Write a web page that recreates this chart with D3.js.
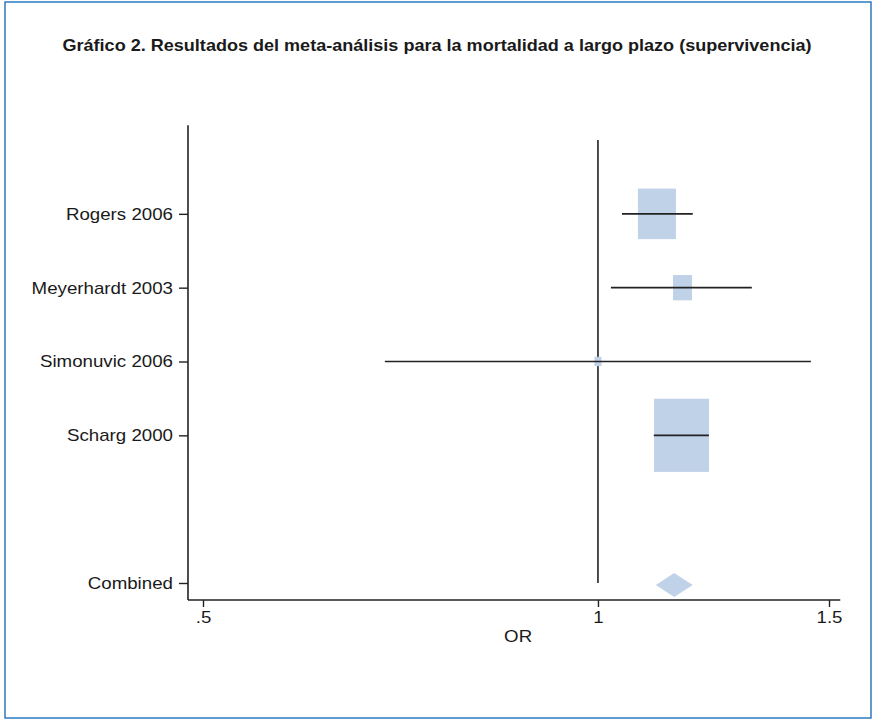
<!DOCTYPE html>
<html><head><meta charset="utf-8">
<script src="https://cdn.jsdelivr.net/npm/d3@7"></script>
<style>body{margin:0;background:#fff}</style>
</head><body>
<svg id="c" width="874" height="722"></svg>
<script>
// ---- data ----
const studies = ["Rogers 2006", "Meyerhardt 2003", "Simonuvic 2006", "Scharg 2000"];
const orEst  = [1.109, 1.160, 1.000, 1.158];
const ciLow  = [1.043, 1.023, 0.688, 1.103];
const ciHigh = [1.181, 1.310, 1.453, 1.215];
const weights = [29.6, 7.4, 1.0, 62.0];
const combinedLabel = "Combined";
const combinedEst = 1.143, combinedLow = 1.107, combinedHigh = 1.181;
const xTicks = [0.5, 1, 1.5];
const xTickLabels = [".5", "1", "1.5"];
const title = "Gráfico 2. Resultados del meta-análisis para la mortalidad a largo plazo (supervivencia)";
const xTitle = "OR";

// ---- layout ----
const svg = d3.select("#c");
const font = "'Liberation Sans', Arial, Helvetica, sans-serif";
const labelSize = 17, stretch = 1.1;

function widen(sel, f) {
  sel.each(function () {
    const w = this.getComputedTextLength();
    d3.select(this).attr("textLength", w * f).attr("lengthAdjust", "spacingAndGlyphs");
  });
}

svg.append("rect").attr("x", 5).attr("y", 2).attr("width", 866).attr("height", 716)
  .attr("fill", "#fff").attr("stroke", "#3a83c2").attr("stroke-width", 1.6);

const t = svg.append("text").attr("x", 437).attr("y", 51).attr("text-anchor", "middle")
  .attr("font-family", font).attr("font-weight", "bold").attr("font-size", 16.5)
  .attr("fill", "#1a1a1a").text(title);
t.attr("textLength", 749).attr("lengthAdjust", "spacingAndGlyphs");

const x = d3.scaleLog().domain([0.5, 1.5]).range([203, 829]);
const rows = studies.map((d, i) => i + 1);
const combinedRow = studies.length + 2;
const y = d3.scaleLinear().domain([0, combinedRow]).range([140, 583]);

const xMin = 0.487, xMax = 1.53;   // plot region extents
const yTop = -0.2, yBottom = combinedRow + 0.23;

const g = svg.append("g");

// axes lines
g.append("line").attr("x1", x(xMin)).attr("x2", x(xMin)).attr("y1", y(yTop)).attr("y2", y(yBottom))
  .attr("stroke", "#222").attr("stroke-width", 1.6);
g.append("line").attr("x1", x(xMin)).attr("x2", x(xMax)).attr("y1", y(yBottom)).attr("y2", y(yBottom))
  .attr("stroke", "#222").attr("stroke-width", 1.6);

// x axis ticks
const xa = g.append("g").attr("transform", `translate(0,${y(yBottom)})`)
  .call(d3.axisBottom(x).tickValues(xTicks).tickFormat((d, i) => xTickLabels[i]).tickSize(7).tickPadding(4));
xa.select(".domain").remove();
xa.selectAll("line").attr("stroke", "#222").attr("stroke-width", 1.4);
xa.selectAll("text").attr("font-family", font).attr("font-size", labelSize).attr("fill", "#1a1a1a");
widen(xa.selectAll("text"), stretch);

// y axis ticks
const yTickVals = rows.concat([combinedRow]);
const yLabels = studies.concat([combinedLabel]);
const ya = g.append("g").attr("transform", `translate(${x(xMin)},0)`)
  .call(d3.axisLeft(y).tickValues(yTickVals).tickFormat((d, i) => yLabels[i]).tickSize(9).tickPadding(6));
ya.select(".domain").remove();
ya.selectAll("line").attr("stroke", "#222").attr("stroke-width", 1.4);
ya.selectAll("text").attr("font-family", font).attr("font-size", labelSize).attr("fill", "#1a1a1a")
  .attr("dy", "0.32em");
widen(ya.selectAll("text"), stretch);

// x title
const xt = g.append("text").attr("x", (x(xMin) + x(xMax)) / 2 + 4).attr("y", y(yBottom) + 42)
  .attr("text-anchor", "middle").attr("font-family", font).attr("font-size", labelSize)
  .attr("fill", "#1a1a1a").text(xTitle);
widen(xt, stretch);

// null line
g.append("line").attr("x1", x(1)).attr("x2", x(1)).attr("y1", y(0)).attr("y2", y(combinedRow))
  .attr("stroke", "#222").attr("stroke-width", 1.6);

// boxes
const boxColor = "#c0d2e8";
const k = 6.985, aspect = 1.33;
studies.forEach((s, i) => {
  const w = k * Math.sqrt(weights[i]);
  const h = w * aspect;
  g.append("rect").attr("x", x(orEst[i]) - w / 2).attr("y", y(rows[i]) - h / 2)
    .attr("width", w).attr("height", h).attr("fill", boxColor);
});
// CI lines
studies.forEach((s, i) => {
  g.append("line").attr("x1", x(ciLow[i])).attr("x2", x(ciHigh[i]))
    .attr("y1", y(rows[i])).attr("y2", y(rows[i]))
    .attr("stroke", "#222").attr("stroke-width", 1.6);
});

// combined diamond
const dh = 12;
const cy = y(combinedRow) + 2;
g.append("path").attr("d", `M${x(combinedLow)},${cy} L${x(combinedEst)},${cy - dh} L${x(combinedHigh)},${cy} L${x(combinedEst)},${cy + dh} Z`)
  .attr("fill", boxColor);
</script>
</body></html>
